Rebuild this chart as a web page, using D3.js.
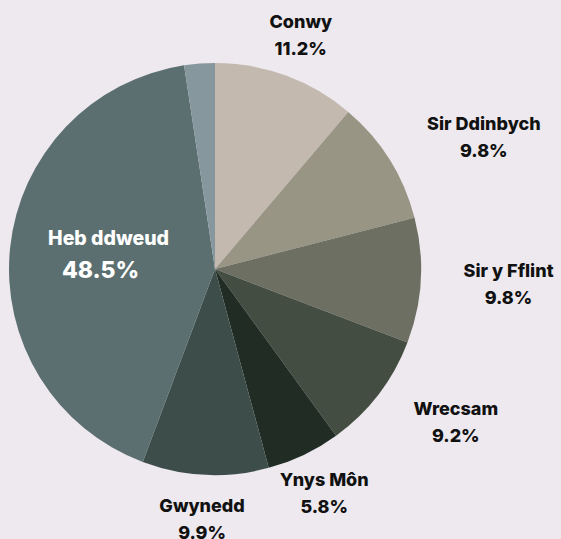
<!DOCTYPE html>
<html>
<head>
<meta charset="utf-8">
<script src="https://cdn.jsdelivr.net/npm/d3@7"></script>
<style>
    html, body { margin: 0; padding: 0; background: #EDE9EE; }
    svg { display: block; }
    text { font-family: Inter, "Open Sans", sans-serif; font-weight: 800; }
</style>
</head>
<body>
<svg id="chart"></svg>
<script>
// data
const regions = ["Conwy", "Sir Ddinbych", "Sir y Fflint", "Wrecsam", "Ynys Môn", "Gwynedd", "Heb ddweud", "Arall"];
const shares = [11.2, 9.8, 9.8, 9.2, 5.8, 9.9, 41.9, 2.4];
const shareLabels = ["11.2%", "9.8%", "9.8%", "9.2%", "5.8%", "9.9%", "48.5%", ""];
const colours = ["#C3B9AF", "#999585", "#6C6F61", "#444D42", "#212C25", "#3D4D4A", "#5C6F70", "#86979D"];

const WIDTH = 561;
const HEIGHT = 539;
const CX = 215;
const CY = 269;
const RADIUS = 206;
const LABEL_RADIUS = 232;
// small hand nudges for the outside labels, in the same order as the regions
const LABEL_NUDGE = [[-5, 3], [24, 2], [17, 0], [23, -1], [-10, -4], [0, -2]];

const svg = d3.select("#chart")
    .attr("width", WIDTH)
    .attr("height", HEIGHT);

const g = svg.append("g")
    .attr("transform", "translate(" + CX + "," + CY + ")");

const pie = d3.pie().sort(null).value((d) => d.value);
const arcs = pie(regions.map((name, i) => ({ name: name, value: shares[i], label: shareLabels[i], colour: colours[i] })));

const arc = d3.arc().innerRadius(0).outerRadius(RADIUS);

g.selectAll(".slice")
    .data(arcs)
    .join("path")
    .attr("class", "slice")
    .attr("d", arc)
    .attr("fill", (d) => d.data.colour);

// outside labels
const outside = arcs.filter((d) => d.data.label !== "" && d.data.name !== "Heb ddweud");
const CAP = 13.5;
const LINE_GAP = 27;
const BLOCK_H = CAP + LINE_GAP;

outside.forEach((d, i) => {
    const a = (d.startAngle + d.endAngle) / 2;
    const lbl = g.append("g").attr("class", "label");
    const t1 = lbl.append("text")
        .attr("text-anchor", "middle")
        .attr("font-size", 18)
        .attr("fill", "#111")
        .text(d.data.name);
    const t2 = lbl.append("text")
        .attr("text-anchor", "middle")
        .attr("font-size", 18)
        .attr("fill", "#111")
        .text(d.data.label);
    const w = Math.max(t1.node().getComputedTextLength(), t2.node().getComputedTextLength());
    const px = LABEL_RADIUS * Math.sin(a);
    const py = -LABEL_RADIUS * Math.cos(a);
    const cx = px + (w / 2) * Math.sin(a) + LABEL_NUDGE[i][0];
    const cy = py - (BLOCK_H / 2) * Math.cos(a) + LABEL_NUDGE[i][1];
    t1.attr("x", cx).attr("y", cy - BLOCK_H / 2 + CAP);
    t2.attr("x", cx).attr("y", cy + BLOCK_H / 2);
});

// inside label for the biggest slice
const big = arcs.find((d) => d.data.name === "Heb ddweud");
const [bx, by] = arc.centroid(big);
g.append("text")
    .attr("x", bx - 4)
    .attr("y", by - 13)
    .attr("text-anchor", "middle")
    .attr("font-size", 19.5)
    .attr("fill", "#fff")
    .text(big.data.name);
g.append("text")
    .attr("x", bx - 12)
    .attr("y", by + 20)
    .attr("text-anchor", "middle")
    .attr("font-size", 23)
    .attr("fill", "#fff")
    .text(big.data.label);
</script>
</body>
</html>
